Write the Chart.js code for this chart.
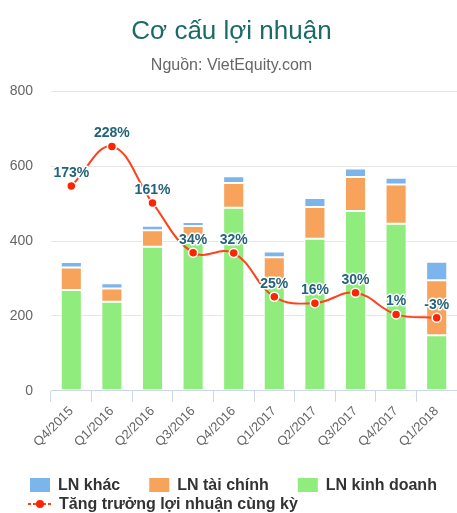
<!DOCTYPE html>
<html>
<head>
<meta charset="utf-8">
<script src="https://cdn.jsdelivr.net/npm/chart.js@4.4.1/dist/chart.umd.min.js"></script>
<style>
  html, body { margin: 0; padding: 0; background: #fff; overflow: hidden; }
  #wrap { width: 457px; height: 513px; overflow: hidden; }
</style>
</head>
<body>
<div id="wrap"><canvas id="profitChart" width="463" height="513"></canvas></div>
<script>
// Dữ liệu
const quarters = ['Q4/2015', 'Q1/2016', 'Q2/2016', 'Q3/2016', 'Q4/2016',
                  'Q1/2017', 'Q2/2017', 'Q3/2017', 'Q4/2017', 'Q1/2018'];
const lnKinhDoanh = [269, 238, 385, 395, 489, 290, 406, 480, 446, 148];
const lnTaiChinh  = [60, 35, 44, 45, 66, 67, 85, 91, 105, 147];
const lnKhac      = [15, 14, 12, 11, 18, 15, 24, 23, 18, 50];
// vị trí đường tăng trưởng (theo trục trái) và nhãn % tương ứng
const tangTruongLine = [547, 653, 502, 369, 368, 251, 234, 262, 204, 195];
const tangTruongPct  = [173, 228, 161, 34, 32, 25, 16, 30, 1, -3];
const yTicks = [0, 200, 400, 600, 800];

const FONT = "'Liberation Sans', Arial, sans-serif";

// Nhãn % trên các điểm của đường
const pctLabels = {
  id: 'pctLabels',
  afterDatasetsDraw(chart) {
    const meta = chart.getDatasetMeta(3);
    const ctx = chart.ctx;
    ctx.save();
    ctx.font = 'bold 14px ' + FONT;
    ctx.textAlign = 'center';
    ctx.textBaseline = 'middle';
    ctx.lineJoin = 'round';
    meta.data.forEach((pt, i) => {
      const txt = tangTruongPct[i] + '%';
      ctx.strokeStyle = '#ffffff';
      ctx.lineWidth = 3;
      ctx.strokeText(txt, pt.x, pt.y - 13);
      ctx.fillStyle = '#22627a';
      ctx.fillText(txt, pt.x, pt.y - 13);
    });
    ctx.restore();
  }
};

// Chú thích vẽ tay (giống kiểu Highcharts)
const manualLegend = {
  id: 'manualLegend',
  afterDraw(chart) {
    const ctx = chart.ctx;
    const ds = chart.data.datasets;
    ctx.save();
    ctx.font = 'bold 16px ' + FONT;
    ctx.textBaseline = 'middle';
    let x = 30;
    const y1 = 485;
    [2, 1, 0].forEach(i => {
      ctx.fillStyle = ds[i].backgroundColor;
      ctx.fillRect(x, y1 - 7, 20, 14);
      ctx.fillStyle = '#333333';
      ctx.fillText(ds[i].label, x + 28, y1 + 1);
      x += 28 + ctx.measureText(ds[i].label).width + 29;
    });
    // dòng 2: đường tăng trưởng
    const y2 = 504;
    ctx.strokeStyle = ds[3].borderColor;
    ctx.lineWidth = 2;
    ctx.setLineDash([3, 2]);
    ctx.beginPath();
    ctx.moveTo(28, y2);
    ctx.lineTo(52, y2);
    ctx.stroke();
    ctx.setLineDash([]);
    ctx.fillStyle = ds[3].pointBackgroundColor;
    ctx.beginPath();
    ctx.arc(40, y2, 4, 0, Math.PI * 2);
    ctx.fill();
    ctx.fillStyle = '#333333';
    ctx.fillText(ds[3].label, 59, y2 + 1);
    ctx.restore();
  }
};

const ctx = document.getElementById('profitChart').getContext('2d');
const profitChart = new Chart(ctx, {
  type: 'bar',
  data: {
    labels: quarters,
    datasets: [
      { label: 'LN kinh doanh', data: lnKinhDoanh, backgroundColor: '#90ed7d',
        borderColor: '#ffffff', borderWidth: 1, borderSkipped: false, order: 1, stack: 'ln' },
      { label: 'LN tài chính', data: lnTaiChinh, backgroundColor: '#f7a35c',
        borderColor: '#ffffff', borderWidth: 1, borderSkipped: false, order: 1, stack: 'ln' },
      { label: 'LN khác', data: lnKhac, backgroundColor: '#7cb5ec',
        borderColor: '#ffffff', borderWidth: 1, borderSkipped: false, order: 1, stack: 'ln' },
      { type: 'line', label: 'Tăng trưởng lợi nhuận cùng kỳ', data: tangTruongLine,
        stack: 'growth', order: 0,
        borderColor: '#ff4219', borderWidth: 2, tension: 0.4,
        pointRadius: 4.5, pointBackgroundColor: '#ff2400',
        pointBorderColor: '#ffffff', pointBorderWidth: 1.5 }
    ]
  },
  options: {
    responsive: false,
    animation: false,
    datasets: { bar: { barPercentage: 0.52, categoryPercentage: 1.0 } },
    layout: { padding: { left: 0, right: 0, top: 0, bottom: 61 } },
    plugins: {
      legend: { display: false },
      tooltip: { enabled: false },
      title: {
        display: true,
        text: 'Cơ cấu lợi nhuận',
        color: '#1a6b66',
        font: { family: FONT, size: 26, weight: 'normal' },
        padding: { top: 16, bottom: 5 }
      },
      subtitle: {
        display: true,
        text: 'Nguồn: VietEquity.com',
        color: '#666666',
        font: { family: FONT, size: 16 },
        padding: { top: 4, bottom: 16 }
      }
    },
    scales: {
      x: {
        stacked: true,
        afterFit: s => { s.paddingRight = 0; },
        grid: { drawOnChartArea: false, drawTicks: true, tickLength: 11, color: '#ccd6eb', offset: true },
        border: { color: '#ccd6eb' },
        ticks: { color: '#666666', font: { family: FONT, size: 13 }, maxRotation: 45, minRotation: 45, padding: 2 }
      },
      y: {
        stacked: true,
        min: 0,
        max: 800,
        afterBuildTicks: s => { s.ticks = yTicks.map(v => ({ value: v })); },
        afterFit: s => { s.width = 51; },
        grid: { color: '#e6e6e6', drawTicks: false },
        border: { display: false },
        ticks: { color: '#666666', font: { family: FONT, size: 14 }, padding: 18 }
      }
    }
  },
  plugins: [pctLabels, manualLegend]
});
</script>
</body>
</html>
